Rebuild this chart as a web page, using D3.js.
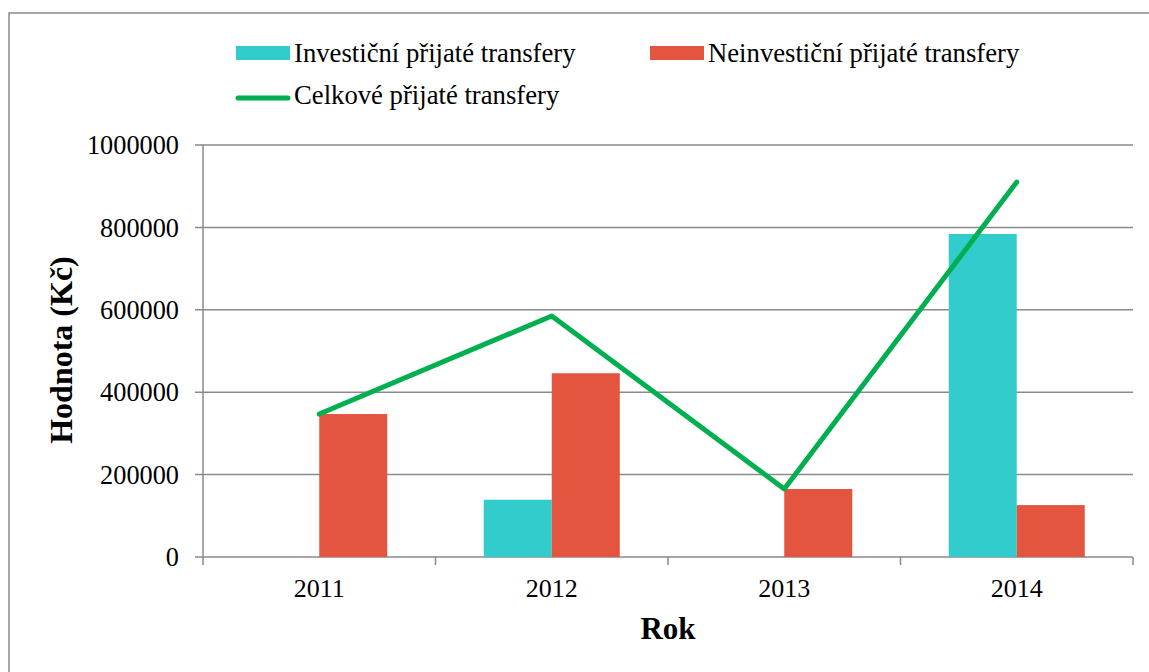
<!DOCTYPE html>
<html>
<head>
<meta charset="utf-8">
<script src="https://cdn.jsdelivr.net/npm/d3@7"></script>
<style>
  body { margin: 0; background: #fff; }
</style>
</head>
<body>
<div id="chart"></div>
<script>
const years = ["2011", "2012", "2013", "2014"];
const investicni = [0, 139000, 0, 784000];
const neinvesticni = [347000, 446000, 165000, 126000];
const celkove = [347000, 585000, 165000, 910000];
const yTicks = [0, 200000, 400000, 600000, 800000, 1000000];

const seriesNames = ["Investiční přijaté transfery", "Neinvestiční přijaté transfery"];
const lineName = "Celkové přijaté transfery";
const colors = ["#33CCCC", "#E3553E"];
const lineColor = "#00B050";
const gridColor = "#8a8a8a";
const font = "Liberation Serif";

const width = 1149, height = 672;
const plotLeft = 203, plotRight = 1133, plotTop = 145, plotBottom = 557;

const svg = d3.select("#chart")
    .append("svg")
    .attr("width", width)
    .attr("height", height);

// outer frame
svg.append("rect")
    .attr("x", 9).attr("y", 13)
    .attr("width", 1160).attr("height", 680)
    .attr("fill", "none")
    .attr("stroke", gridColor)
    .attr("stroke-width", 1.5);

const x0 = d3.scaleBand()
    .domain(years)
    .range([plotLeft, plotRight])
    .paddingInner(0.415)
    .paddingOuter(0.2075);

const x1 = d3.scaleBand()
    .domain([0, 1])
    .range([0, x0.bandwidth()]);

const y = d3.scaleLinear()
    .domain([0, 1000000])
    .range([plotBottom, plotTop]);

// gridlines
svg.append("g")
    .selectAll("line")
    .data(yTicks)
    .enter()
    .append("line")
    .attr("x1", plotLeft - 8)
    .attr("x2", plotRight)
    .attr("y1", d => y(d))
    .attr("y2", d => y(d))
    .attr("stroke", gridColor)
    .attr("stroke-width", 1.5);

// y axis line
svg.append("line")
    .attr("x1", plotLeft).attr("x2", plotLeft)
    .attr("y1", plotTop).attr("y2", plotBottom)
    .attr("stroke", gridColor)
    .attr("stroke-width", 1.5);

// x axis ticks at category boundaries
const step = x0.step();
svg.append("g")
    .selectAll("line")
    .data(d3.range(years.length + 1))
    .enter()
    .append("line")
    .attr("x1", i => plotLeft + i * step)
    .attr("x2", i => plotLeft + i * step)
    .attr("y1", plotBottom)
    .attr("y2", plotBottom + 8)
    .attr("stroke", gridColor)
    .attr("stroke-width", 1.5);

// y tick labels
svg.append("g")
    .selectAll("text")
    .data(yTicks)
    .enter()
    .append("text")
    .attr("x", 179)
    .attr("y", d => y(d))
    .attr("dy", "0.35em")
    .attr("text-anchor", "end")
    .attr("font-family", font)
    .attr("font-size", "26.3px")
    .text(d => d);

// x tick labels
svg.append("g")
    .selectAll("text")
    .data(years)
    .enter()
    .append("text")
    .attr("x", d => x0(d) + x0.bandwidth() / 2)
    .attr("y", 597)
    .attr("text-anchor", "middle")
    .attr("font-family", font)
    .attr("font-size", "26px")
    .text(d => d);

// bars
const barData = [investicni, neinvesticni];
barData.forEach((values, s) => {
    svg.append("g")
        .selectAll("rect")
        .data(years)
        .enter()
        .append("rect")
        .attr("x", (d, i) => x0(d) + x1(s))
        .attr("width", x1.bandwidth())
        .attr("y", (d, i) => y(values[i]))
        .attr("height", (d, i) => y(0) - y(values[i]))
        .style("fill", colors[s]);
});

// total line
const line = d3.line()
    .x((d, i) => x0(years[i]) + x0.bandwidth() / 2)
    .y(d => y(d));

svg.append("path")
    .datum(celkove)
    .attr("d", line)
    .attr("fill", "none")
    .attr("stroke", lineColor)
    .attr("stroke-width", 5)
    .attr("stroke-linecap", "round")
    .attr("stroke-linejoin", "round");

// axis titles
svg.append("text")
    .attr("x", 668)
    .attr("y", 639)
    .attr("text-anchor", "middle")
    .attr("font-family", font)
    .attr("font-size", "31px")
    .attr("font-weight", "bold")
    .text("Rok");

svg.append("text")
    .attr("transform", "translate(72, 350) rotate(-90)")
    .attr("text-anchor", "middle")
    .attr("font-family", font)
    .attr("font-size", "32px")
    .attr("font-weight", "bold")
    .text("Hodnota (Kč)");

// legend
const legend = svg.append("g");
const legendItems = [
    { name: seriesNames[0], color: colors[0], x: 236, y: 61.5, type: "rect" },
    { name: seriesNames[1], color: colors[1], x: 650, y: 61.5, type: "rect" },
    { name: lineName, color: lineColor, x: 236, y: 104, type: "line" }
];
legendItems.forEach(item => {
    if (item.type === "rect") {
        legend.append("rect")
            .attr("x", item.x).attr("y", item.y - 15.5)
            .attr("width", 54).attr("height", 14)
            .style("fill", item.color);
    } else {
        legend.append("line")
            .attr("x1", item.x + 2).attr("x2", item.x + 52)
            .attr("y1", item.y - 6).attr("y2", item.y - 6)
            .attr("stroke", item.color)
            .attr("stroke-width", 5)
            .attr("stroke-linecap", "round");
    }
    legend.append("text")
        .attr("x", item.x + 58)
        .attr("y", item.y)
        .attr("font-family", font)
        .attr("font-size", "26.7px")
        .text(item.name);
});
</script>
</body>
</html>
